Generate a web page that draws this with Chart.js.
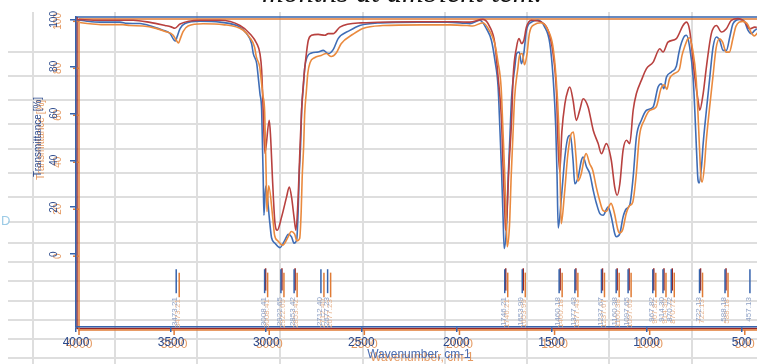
<!DOCTYPE html>
<html>
<head>
<meta charset="utf-8">
<script src="https://cdn.jsdelivr.net/npm/chart.js@4.4.1/dist/chart.umd.min.js"></script>
<style>
  html, body { margin: 0; padding: 0; background: #fff; overflow: hidden; }
  #wrap { position: relative; width: 757px; height: 364px; }
  #ir { position: absolute; left: 0; top: 0; }
  .caption { position: absolute; left: 262px; top: -25px; font: italic 30px "Liberation Serif", serif; color: #111; white-space: nowrap; }
  .stray { position: absolute; left: 1px; top: 213px; font: 13px "Liberation Sans", sans-serif; color: #9ccbe6; }
</style>
</head>
<body>
<div id="wrap">
  <canvas id="ir" width="757" height="364"></canvas>
  <div class="caption">months at ambient tem.</div>
  <div class="stray">D</div>
</div>
<script>
// tick values
const xTickValues = [4000, 3500, 3000, 2500, 2000, 1500, 1000, 500];
const yTickValues = [0, 20, 40, 60, 80, 100];

// blue and orange spectra share the same wavenumber grid (cm-1)
const wavenumbers = [3995, 3942, 3874, 3769, 3732, 3664, 3595, 3543, 3506, 3485,
  3476, 3469, 3453, 3427, 3348, 3243, 3138, 3103, 3077, 3068,
  3050, 3042, 3033, 3024, 3020, 3016, 3012, 3003, 2981, 2972,
  2954, 2928, 2902, 2884, 2867, 2854, 2840, 2832, 2827, 2819,
  2814, 2805, 2797, 2785, 2762, 2727, 2700, 2674, 2648, 2622,
  2560, 2508, 2403, 2200, 2050, 1960, 1930, 1877, 1842, 1816,
  1798, 1781, 1772, 1763, 1755, 1749, 1737, 1728, 1719, 1710,
  1693, 1684, 1670, 1658, 1646, 1632, 1606, 1571, 1536, 1509,
  1492, 1478, 1471, 1465, 1448, 1430, 1413, 1401, 1387, 1378,
  1360, 1343, 1334, 1316, 1299, 1281, 1264, 1246, 1229, 1203,
  1186, 1168, 1159, 1141, 1124, 1106, 1089, 1071, 1054, 1028,
  1001, 966, 940, 923, 910, 896, 870, 844, 830, 817,
  800, 791, 774, 756, 747, 738, 730, 724, 712, 703,
  686, 668, 651, 633, 616, 598, 581, 563, 546, 511,
  484, 467, 450, 432, 421];

// transmittance [%]
const blueT = [99.8, 99.2, 98.8, 98.8, 98.3, 98.2, 96.8, 95.4, 94.0, 91.2,
  90.8, 92.5, 96.0, 98.2, 99.2, 98.8, 96.7, 93.9, 89.7, 85.4,
  81.1, 75.4, 68.4, 61.3, 47.2, 32.9, 16.6, 29.0, 13.2, 7.0,
  4.7, 2.8, 6.0, 8.5, 7.4, 4.7, 6.0, 18.7, 32.9, 47.2,
  61.3, 71.2, 79.7, 84.0, 85.7, 86.1, 86.8, 85.4, 87.1, 91.8,
  95.3, 97.4, 98.5, 98.8, 98.8, 98.4, 98.2, 99.6, 96.0, 91.0,
  82.6, 71.2, 54.2, 35.7, 15.9, 2.4, 11.6, 32.9, 49.9, 66.9,
  79.7, 85.4, 86.1, 81.1, 85.4, 95.3, 98.8, 99.6, 96.7, 89.7,
  75.4, 54.2, 32.9, 11.2, 24.4, 41.4, 49.9, 50.6, 40.0, 30.0,
  32.9, 40.0, 41.4, 37.1, 34.3, 27.2, 21.6, 17.3, 16.6, 20.1,
  15.9, 8.8, 7.4, 8.8, 15.9, 19.4, 20.9, 32.9, 49.9, 57.0,
  61.3, 62.7, 71.2, 72.6, 70.5, 75.4, 77.6, 80.0, 86.0, 90.0,
  93.0, 93.2, 88.2, 75.4, 61.3, 44.3, 31.5, 30.3, 37.1, 47.1,
  61.3, 75.4, 88.2, 92.5, 91.0, 86.8, 86.8, 92.5, 98.2, 100.0,
  98.8, 95.3, 93.9, 95.3, 96.0];

const orangeT = [99.5, 99.0, 98.6, 98.6, 98.2, 98.0, 97.0, 95.6, 94.2, 91.5,
  90.8, 92.3, 95.6, 98.0, 99.0, 98.6, 96.3, 93.2, 89.0, 85.0,
  80.5, 75.0, 68.5, 61.5, 48.0, 34.0, 19.0, 30.0, 16.0, 9.0,
  6.5, 4.7, 8.0, 10.5, 9.5, 6.5, 7.5, 19.0, 33.0, 47.0,
  60.0, 70.0, 78.0, 82.5, 84.5, 85.5, 86.3, 85.0, 86.5, 90.5,
  94.5, 97.0, 98.2, 98.5, 98.5, 98.2, 98.0, 99.4, 96.0, 91.0,
  83.0, 72.0, 55.0, 37.0, 18.0, 4.0, 13.0, 34.0, 51.0, 67.5,
  80.0, 85.5, 86.3, 81.5, 85.5, 95.0, 98.6, 99.4, 96.5, 89.5,
  76.0, 55.5, 34.5, 13.8, 26.5, 43.5, 52.0, 52.9, 42.0, 32.0,
  35.0, 42.0, 43.7, 39.5, 36.5, 29.5, 24.0, 19.5, 19.0, 22.5,
  18.5, 11.5, 9.9, 11.5, 18.0, 21.5, 23.0, 34.5, 51.0, 58.0,
  62.0, 63.5, 71.5, 73.0, 71.0, 75.5, 77.8, 79.5, 85.5, 89.0,
  92.5, 93.0, 88.0, 76.0, 62.5, 46.0, 33.0, 31.6, 38.5, 48.5,
  62.5, 76.0, 88.5, 92.6, 91.0, 86.9, 86.9, 92.5, 98.0, 100.0,
  98.6, 95.3, 93.8, 95.2, 96.0];

// red spectrum has its own grid
const redWn = [3995, 3874, 3700, 3611, 3532, 3500, 3480, 3453, 3348, 3243,
  3138, 3086, 3050, 3033, 3024, 3016, 3007, 2984, 2977, 2966,
  2954, 2942, 2919, 2893, 2879, 2867, 2854, 2844, 2832, 2823,
  2814, 2802, 2791, 2779, 2762, 2727, 2692, 2674, 2648, 2613,
  2500, 2200, 2000, 1930, 1860, 1824, 1798, 1781, 1763, 1755,
  1746, 1742, 1735, 1725, 1710, 1702, 1684, 1671, 1658, 1646,
  1632, 1606, 1553, 1518, 1492, 1474, 1466, 1457, 1446, 1430,
  1413, 1404, 1387, 1370, 1352, 1334, 1308, 1281, 1255, 1238,
  1212, 1186, 1168, 1155, 1141, 1124, 1106, 1089, 1071, 1054,
  1028, 1001, 966, 931, 914, 888, 844, 809, 791, 774,
  747, 730, 721, 703, 686, 660, 633, 607, 581, 555,
  520, 484, 458, 432, 421];
const redT = [100, 99.6, 99.6, 98.7, 97.4, 96.8, 96.2, 98, 99.6, 99.6,
  97.4, 93.9, 89.7, 85.4, 78.3, 61.3, 43, 57, 49.9, 30.2,
  13.2, 10.2, 15.9, 24.4, 28.6, 24.4, 15.9, 10.2, 24.4, 44.3,
  61.3, 75.4, 84, 91, 93.2, 93.6, 93.2, 93.9, 93.9, 96.7,
  98.5, 99, 99, 98.8, 100, 96.7, 89.7, 75.4, 57, 37.1,
  18.7, 10.2, 15.9, 35.7, 57, 75.4, 88.2, 91.8, 89.7, 91,
  96.7, 99.6, 98.8, 95.3, 85.4, 68.4, 47.1, 35, 52, 64,
  70, 71.2, 65.5, 57, 61.3, 66.2, 62.7, 52.8, 47.1, 42.8,
  47.1, 40, 28.6, 25.1, 30, 44.3, 48.5, 47.1, 61.3, 68.4,
  74, 79, 81.8, 87.5, 86.1, 90.3, 91.8, 97.4, 98.8, 95.3,
  75.4, 65.5, 61.3, 68.4, 79.7, 93.9, 97.4, 94.6, 96, 99.6,
  100.3, 98.8, 96, 96.7, 96.5];

// picked peaks (cm-1)
const bluePeaks = [3473.21, 3008.41, 2922.65, 2853.42, 2712.40, 2677.23, 1746.21, 1653.99, 1460.18,
  1377.43, 1237.67, 1160.38, 1097.65, 967.82, 914.30, 870.72, 722.13, 588.18, 457.13];
const orangePeaks = [3473.21, 3008.41, 2922.65, 2853.42, 2712.40, 2677.23, 1746.21, 1653.99, 1460.18,
  1377.43, 1237.67, 1160.38, 1097.65, 967.82, 914.30, 870.72, 722.13, 588.18];
const redPeaks = [3008.41, 2922.65, 2853.42, 1746.21, 1653.99, 1460.18, 1377.43, 1237.67,
  1160.38, 1097.65, 967.82, 914.30, 870.72, 722.13, 588.18];

const axisBlue = '#3563ad', axisRed = '#962828', axisOrange = '#e07b35';
const tickText = '#2c4a8c';

// spreadsheet grid behind the pasted chart (pixels)
const sheetCols = [33, 115, 197, 280, 363, 445, 527, 609, 692];
const sheetRows = [52, 76, 100, 124, 149, 173, 197, 222, 243, 262, 281, 301, 320, 339, 358];

function seg(ctx, x1, y1, x2, y2, color, w) {
  ctx.strokeStyle = color; ctx.lineWidth = w;
  ctx.beginPath(); ctx.moveTo(x1, y1); ctx.lineTo(x2, y2); ctx.stroke();
}

const backdrop = {
  id: 'backdrop',
  beforeDraw(chart) {
    const { ctx, chartArea: a, scales } = chart;
    ctx.save();
    sheetCols.forEach(x => seg(ctx, x, 12, x, 364, '#dedede', 2));
    sheetRows.forEach(y => seg(ctx, 8, y, 757, y, '#dedede', 2));

    // offset frames of the overlaid spectra
    seg(ctx, a.left, a.top, a.right, a.top, axisBlue, 1.5);
    seg(ctx, a.left + 3, a.top + 2, a.right, a.top + 2, axisOrange, 1.5);
    seg(ctx, a.left + 1, a.top, a.left + 1, a.bottom + 2, axisRed, 1.5);
    seg(ctx, a.left + 1, a.bottom + 1.5, a.right, a.bottom + 1.5, axisRed, 1.5);
    seg(ctx, a.left + 3, a.top + 2, a.left + 3, a.bottom + 4, axisOrange, 1.5);
    seg(ctx, a.left + 3, a.bottom + 3, a.right, a.bottom + 3, axisOrange, 1.5);

    // orange ghost ticks and labels
    const x2 = scales.x2, y2 = scales.y2;
    ctx.fillStyle = '#e59a62';
    ctx.font = '12px "Liberation Sans"';
    ctx.textAlign = 'center'; ctx.textBaseline = 'middle';
    xTickValues.forEach(v => {
      const px = x2.getPixelForValue(v);
      seg(ctx, px, a.bottom + 3, px, a.bottom + 8, axisOrange, 1.5);
      ctx.fillText(String(v), px, 345);
    });
    ctx.font = '10px "Liberation Sans"';
    yTickValues.forEach(v => {
      const py = y2.getPixelForValue(v);
      seg(ctx, a.left - 3, py, a.left + 3, py, axisOrange, 1.5);
      ctx.save(); ctx.translate(58, py); ctx.rotate(-Math.PI / 2);
      ctx.fillText(String(v), 0, 0); ctx.restore();
    });
    ctx.save(); ctx.translate(41, 140); ctx.rotate(-Math.PI / 2);
    ctx.fillText('Transmittance [%]', 0, 0); ctx.restore();
    ctx.font = '12px "Liberation Sans"';
    ctx.fillText('Wavenumber, cm-1', 422, 358);

    // axis titles
    ctx.fillStyle = tickText;
    ctx.font = '10px "Liberation Sans"';
    ctx.save(); ctx.translate(38, 137); ctx.rotate(-Math.PI / 2);
    ctx.fillText('Transmittance [%]', 0, 0); ctx.restore();
    ctx.fillStyle = '#4a6db2';
    ctx.font = '12px "Liberation Sans"';
    ctx.fillText('Wavenumber, cm-1', 419, 355);
    ctx.restore();
  }
};

const peakMarks = {
  id: 'peakMarks',
  afterDatasetsDraw(chart) {
    const { ctx, scales } = chart;
    const groups = [
      { peaks: redPeaks, xs: scales.x, ys: scales.y, color: axisRed, text: null, dx: 1, top: -6, bot: -15.5 },
      { peaks: orangePeaks, xs: scales.x2, ys: scales.y2, color: axisOrange, text: '#e8b48e', dx: 0, top: -7, bot: -17.5 },
      { peaks: bluePeaks, xs: scales.x, ys: scales.y, color: axisBlue, text: '#8fa2c6', dx: 0, top: -6.4, bot: -16.6 }
    ];
    ctx.save();
    ctx.font = '8px "Liberation Sans"';
    ctx.textAlign = 'right'; ctx.textBaseline = 'middle';
    groups.forEach(g => {
      g.peaks.forEach(p => {
        const px = g.xs.getPixelForValue(p) + g.dx;
        seg(ctx, px, g.ys.getPixelForValue(g.top), px, g.ys.getPixelForValue(g.bot), g.color, 1.5);
        if (g.text) {
          ctx.fillStyle = g.text;
          ctx.save(); ctx.translate(px - 1, g.ys.getPixelForValue(-18.3)); ctx.rotate(-Math.PI / 2);
          ctx.fillText(p.toFixed(2), 0, 0); ctx.restore();
        }
      });
    });
    ctx.restore();
  }
};

const ctx = document.getElementById('ir').getContext('2d');
new Chart(ctx, {
  type: 'line',
  data: {
    datasets: [
      {
        label: 'Sample 1',
        data: wavenumbers.map((w, i) => ({ x: w, y: orangeT[i] })),
        borderColor: '#ea8a3e',
        xAxisID: 'x2', yAxisID: 'y2'
      },
      {
        label: 'Sample 2',
        data: redWn.map((w, i) => ({ x: w, y: redT[i] })),
        borderColor: '#b8413f',
        xAxisID: 'x', yAxisID: 'y'
      },
      {
        label: 'Sample 3',
        data: wavenumbers.map((w, i) => ({ x: w, y: blueT[i] })),
        borderColor: '#3f6db6',
        xAxisID: 'x', yAxisID: 'y'
      }
    ]
  },
  options: {
    responsive: false,
    animation: false,
    devicePixelRatio: 1,
    layout: { padding: { left: 0, right: 0, top: 17, bottom: 0 } },
    elements: {
      point: { radius: 0 },
      line: { borderWidth: 1.6, cubicInterpolationMode: 'monotone', fill: false }
    },
    plugins: { legend: { display: false }, tooltip: { enabled: false } },
    scales: {
      x: {
        type: 'linear', reverse: true, min: 420, max: 4000,
        afterBuildTicks: s => { s.ticks = xTickValues.map(v => ({ value: v })); },
        afterFit: s => { s.height = 37; },
        border: { color: axisBlue, width: 1.5 },
        grid: { drawOnChartArea: false, color: axisBlue, tickLength: 5, lineWidth: 1.5 },
        ticks: {
          maxRotation: 0, autoSkip: false, padding: 3, color: tickText,
          font: { family: 'Liberation Sans', size: 12 },
          callback: v => String(v)
        }
      },
      y: {
        min: -31, max: 101,
        afterBuildTicks: s => { s.ticks = yTickValues.map(v => ({ value: v })); },
        afterFit: s => { s.width = 76; },
        border: { color: axisBlue, width: 1.5 },
        grid: { drawOnChartArea: false, color: axisBlue, tickLength: 6, lineWidth: 1.5 },
        ticks: {
          minRotation: 90, maxRotation: 90, crossAlign: 'center', padding: 7,
          autoSkip: false, color: tickText,
          font: { family: 'Liberation Sans', size: 10 },
          callback: v => String(v)
        }
      },
      x2: { type: 'linear', axis: 'x', position: 'bottom', display: false, reverse: true, min: 435.8, max: 4015.8 },
      y2: { type: 'linear', axis: 'y', position: 'left', display: false, min: -30.15, max: 101.85 }
    }
  },
  plugins: [backdrop, peakMarks]
});
</script>
</body>
</html>
